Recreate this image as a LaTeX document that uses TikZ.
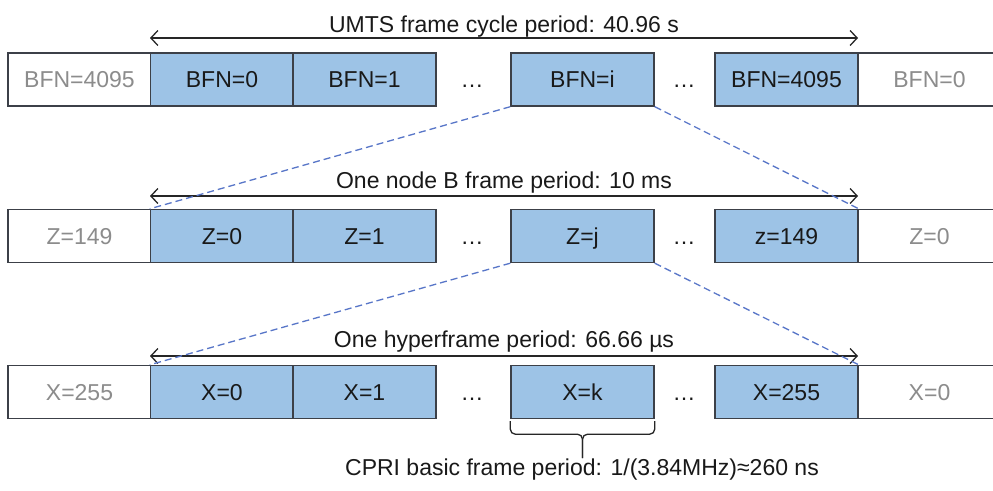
\documentclass[tikz,border=0pt]{standalone}
\usepackage{fontspec}
\setmainfont{Liberation Sans}
\usetikzlibrary{arrows.meta,calc}
\definecolor{framefill}{RGB}{157,195,230}
\definecolor{frameedge}{RGB}{60,64,72}
\definecolor{ghosttext}{RGB}{140,140,140}
\definecolor{zoomline}{RGB}{88,118,200}
\definecolor{inktext}{RGB}{25,25,25}
\tikzset{
  lbl/.style={font=\fontsize{23}{27}\selectfont, text=inktext},
  slot/.style={lbl, draw=frameedge, line width=1.4pt, minimum width=143pt,
    minimum height=53pt, inner sep=0pt, text height=16.5pt, text depth=0pt},
  frm/.style={slot, fill=framefill},
  ghost/.style={slot, fill=white, text=ghosttext},
  gap/.style={lbl, inner sep=0pt, text height=16.5pt, text depth=0pt},
  span/.style={{Straight Barb[length=7pt,width=15pt]}-{Straight Barb[length=7pt,width=15pt]},
    line width=1.3pt, draw=black!85},
  zoom/.style={dashed, dash pattern=on 7pt off 4pt, line width=1.3pt, draw=zoomline},
  caption/.style={lbl, anchor=base, inner sep=0pt}
}
\begin{document}
\begin{tikzpicture}[x=1pt,y=-1pt]
\clip (0,0) rectangle (993,490);
\fill[white] (0,0) rectangle (993,490);

% row 1: UMTS frames
\node[ghost] (g10) at (79.5,79.5) {BFN=4095};
\node[ghost] (g11) at (929.5,79.5) {BFN=0};
\node[frm] (b0) at (222,79.5) {BFN=0};
\node[frm] (b1) at (364.5,79.5) {BFN=1};
\node[gap] (d11) at (472,79.5) {…};
\node[frm] (bi) at (582.5,79.5) {BFN=i};
\node[gap] (d12) at (684,79.5) {…};
\node[frm] (bl) at (786.5,79.5) {BFN=4095};
\coordinate (a1l) at (150,38);
\coordinate (a1r) at (858,38);
\draw[span] (a1l) -- (a1r);
\node[caption] (t1) at (504,32) {UMTS frame cycle period: 40.96 s};

% row 2: node B frames
\node[ghost] (g20) at (79.5,236) {Z=149};
\node[ghost] (g21) at (929.5,236) {Z=0};
\node[frm] (z0) at (222,236) {Z=0};
\node[frm] (z1) at (364.5,236) {Z=1};
\node[gap] (d21) at (472,236) {…};
\node[frm] (zj) at (582.5,236) {Z=j};
\node[gap] (d22) at (684,236) {…};
\node[frm] (zl) at (786.5,236) {z=149};
\coordinate (a2l) at (150,196);
\coordinate (a2r) at (858,196);
\draw[span] (a2l) -- (a2r);
\node[caption] (t2) at (504,188) {One node B frame period: 10 ms};

% row 3: hyperframes
\node[ghost] (g30) at (79.5,392) {X=255};
\node[ghost] (g31) at (929.5,392) {X=0};
\node[frm] (x0) at (222,392) {X=0};
\node[frm] (x1) at (364.5,392) {X=1};
\node[gap] (d31) at (472,392) {…};
\node[frm] (xk) at (582.5,392) {X=k};
\node[gap] (d32) at (684,392) {…};
\node[frm] (xl) at (786.5,392) {X=255};
\coordinate (a3l) at (150,356);
\coordinate (a3r) at (858,356);
\draw[span] (a3l) -- (a3r);
\node[caption] (t3) at (504,347) {One hyperframe period: 66.66 µs};

% zoom-in guides
\draw[zoom] (bi.south west) -- (z0.north west);
\draw[zoom] (bi.south east) -- (zl.north east);
\draw[zoom] (zj.south west) -- (x0.north west);
\draw[zoom] (zj.south east) -- (xl.north east);

% brace under X=k
\coordinate (bmid) at ($(xk.south)+(0,15)$);
\coordinate (btip) at ($(xk.south)+(0,39)$);
\draw[line width=1.3pt, draw=black!85, rounded corners=5pt]
  ($(xk.south west)+(0,2)$) |- (bmid) -- (btip);
\draw[line width=1.3pt, draw=black!85, rounded corners=5pt]
  ($(xk.south east)+(0,2)$) |- (bmid) -- (btip);
\node[caption] (t4) at (582,475) {CPRI basic frame period: 1/(3.84MHz)≈260 ns};
\end{tikzpicture}
\end{document}
